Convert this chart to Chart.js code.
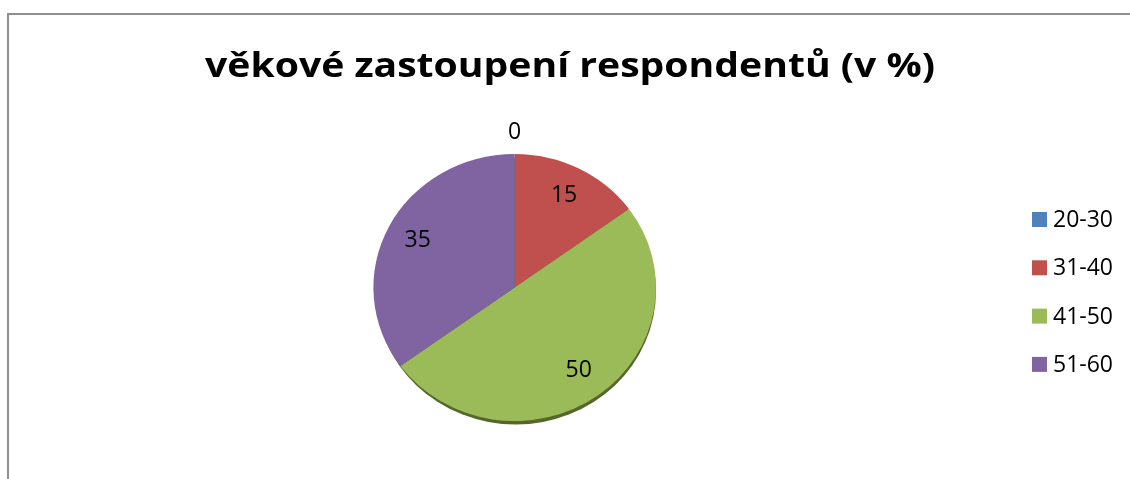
<!DOCTYPE html>
<html>
<head>
<meta charset="utf-8">
<script src="https://cdn.jsdelivr.net/npm/chart.js@4.4.1/dist/chart.umd.min.js"></script>
<style>
html,body{margin:0;padding:0;background:#fff;}
#wrap{position:relative;width:1130px;height:479px;}
canvas{display:block;}
</style>
</head>
<body>
<div id="wrap"><canvas id="c" width="1130" height="479"></canvas></div>
<script>
const chartTitle = 'věkové zastoupení respondentů (v %)';
const categories = ['20-30', '31-40', '41-50', '51-60'];
const values = [0, 15, 50, 35];
const colors = ['#4F81BD', '#C0504D', '#9BBB59', '#8064A2'];

const YSCALE = 0.945;
const TITLE_WIDTH = 730;

const decor = {
  id: 'decor',
  beforeDatasetsDraw(chart) {
    const ctx = chart.ctx;
    const a = chart.chartArea;
    const cx = (a.left + a.right) / 2, cy = (a.top + a.bottom) / 2;
    const r = chart.getDatasetMeta(0).data[0].outerRadius;
    // 3D rim shadow
    ctx.save();
    ctx.fillStyle = '#56672c';
    ctx.beginPath();
    ctx.ellipse(cx + 1, cy + 3.5, r - 1, r * YSCALE, 0, 0, Math.PI * 2);
    ctx.fill();
    ctx.restore();
    ctx.save();
    ctx.translate(cx, cy);
    ctx.scale(1, YSCALE);
    ctx.translate(-cx, -cy);
  },
  afterDatasetsDraw(chart) {
    chart.ctx.restore();
  },
  afterDraw(chart) {
    const ctx = chart.ctx;
    const a = chart.chartArea;
    const cx = (a.left + a.right) / 2, cy = (a.top + a.bottom) / 2;
    // frame
    ctx.save();
    ctx.strokeStyle = '#8f8f8f';
    ctx.lineWidth = 2;
    ctx.beginPath();
    ctx.moveTo(8, 479);
    ctx.lineTo(8, 14);
    ctx.lineTo(1130, 14);
    ctx.stroke();
    ctx.restore();
    // title (horizontally stretched like the original)
    ctx.save();
    ctx.fillStyle = '#000';
    ctx.font = 'bold 34px "Open Sans"';
    ctx.textAlign = 'center';
    ctx.textBaseline = 'alphabetic';
    const w = ctx.measureText(chartTitle).width;
    const sx = TITLE_WIDTH / w;
    ctx.translate(570, 77);
    ctx.scale(sx, 1);
    ctx.fillText(chartTitle, 0, 0);
    ctx.restore();
    // data labels
    const meta = chart.getDatasetMeta(0);
    ctx.save();
    ctx.fillStyle = '#000';
    ctx.font = '23px "Open Sans"';
    ctx.textAlign = 'center';
    ctx.textBaseline = 'middle';
    meta.data.forEach((arc, i) => {
      const mid = (arc.startAngle + arc.endAngle) / 2;
      const f = values[i] === 0 ? 1.16 : 0.77;
      const rr = arc.outerRadius * f;
      const x = cx + rr * Math.cos(mid);
      const y = cy + rr * Math.sin(mid) * YSCALE;
      ctx.fillText(String(values[i]), x, y);
    });
    ctx.restore();
    // legend
    ctx.save();
    ctx.font = '23px "Open Sans"';
    ctx.textBaseline = 'middle';
    ctx.textAlign = 'left';
    categories.forEach((c, i) => {
      const y = 219.5 + i * 48.3;
      ctx.fillStyle = colors[i];
      ctx.fillRect(1032, y - 7.5, 15, 15);
      ctx.fillStyle = '#000';
      ctx.fillText(c, 1053, y + 1);
    });
    ctx.restore();
  }
};

new Chart(document.getElementById('c'), {
  type: 'pie',
  data: {
    labels: categories,
    datasets: [{
      data: values,
      backgroundColor: colors,
      borderWidth: 0
    }]
  },
  options: {
    responsive: false,
    animation: false,
    layout: { padding: { left: 373.4, right: 474, top: 146.2, bottom: 50.2 } },
    plugins: {
      legend: { display: false },
      title: { display: false },
      tooltip: { enabled: false }
    }
  },
  plugins: [decor]
});
</script>
</body>
</html>
